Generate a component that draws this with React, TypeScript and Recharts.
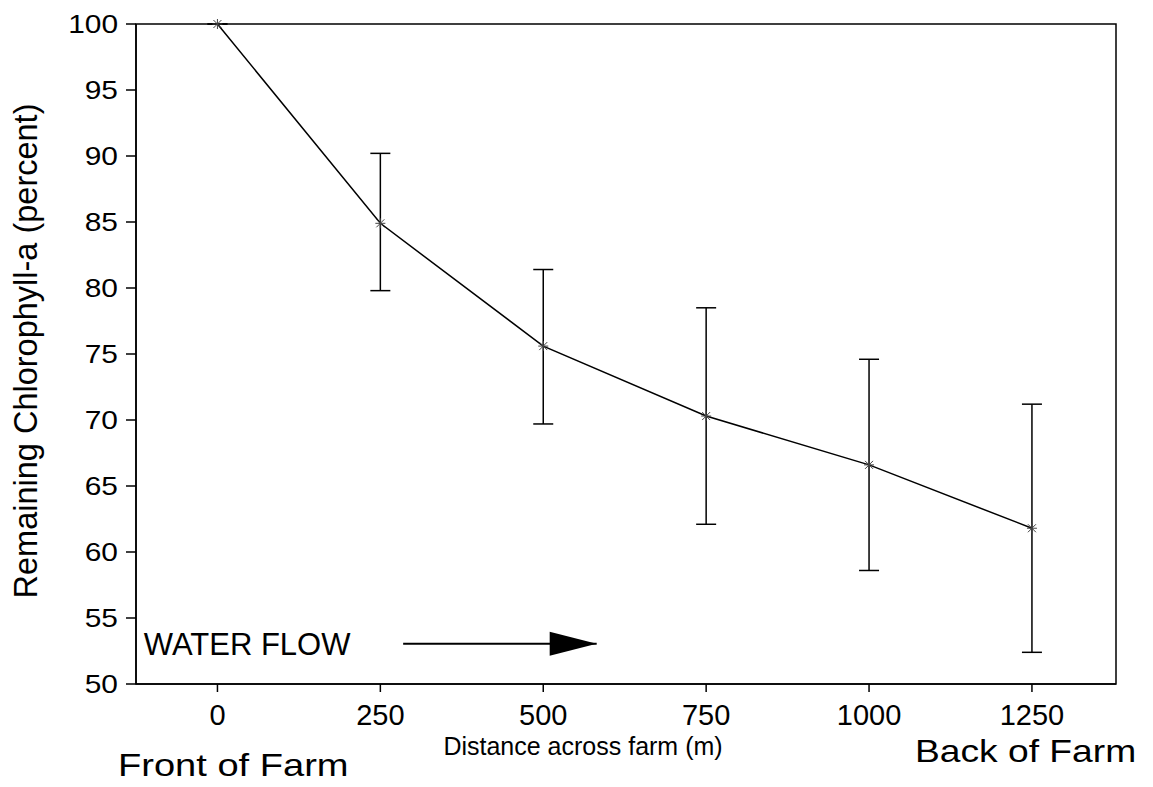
import React from "react";
import { LineChart, Line, XAxis, YAxis, ErrorBar, ReferenceLine, ReferenceDot, ReferenceArea } from "recharts";

const FONT = "'Liberation Sans', Arial, Helvetica, sans-serif";

// distance across the farm (m) and remaining chlorophyll-a (%)
const distances = [0, 250, 500, 750, 1000, 1250];
const chlorophyll = [100, 84.9, 75.6, 70.3, 66.6, 61.8];
const errorBelow = [0, 5.1, 5.9, 8.2, 8.0, 9.4];
const errorAbove = [0, 5.3, 5.8, 8.2, 8.0, 9.4];

const xTicks = [0, 250, 500, 750, 1000, 1250];
const yTicks = [50, 55, 60, 65, 70, 75, 80, 85, 90, 95, 100];
const xDomain = [-125, 1379];
const yDomain = [50, 100];

// water flow annotation, in data units
const flowLabelX = -113;
const flowStart = 285;
const flowTip = 582;
const flowLevel = 53.05;

const data = distances.map((d, i) => ({
  distance: d,
  value: chlorophyll[i],
  err: [errorBelow[i], errorAbove[i]],
}));

const Star = ({ cx, cy }: any) => (
  <g stroke="#444" strokeWidth={1}>
    <line x1={cx - 5} y1={cy} x2={cx + 5} y2={cy} />
    <line x1={cx} y1={cy - 5} x2={cx} y2={cy + 5} />
    <line x1={cx - 4} y1={cy - 4} x2={cx + 4} y2={cy + 4} />
    <line x1={cx - 4} y1={cy + 4} x2={cx + 4} y2={cy - 4} />
  </g>
);

const YTick = ({ x, y, payload }: any) => (
  <g transform={`translate(${x},${y}) scale(1.15,1)`}>
    <text x={0} y={0} dy="0.36em" textAnchor="end" fontSize={26} fontFamily={FONT} fill="#000">
      {payload.value}
    </text>
  </g>
);

const ArrowHead = ({ cx, cy }: any) => (
  <polygon points={`${cx - 47},${cy - 12} ${cx},${cy} ${cx - 47},${cy + 12}`} fill="#000" />
);

const FlowLabel = ({ cx, cy }: any) => (
  <text x={cx} y={cy} dy="0.36em" fontSize={31} fontFamily={FONT} fill="#000">
    WATER FLOW
  </text>
);

export default function App() {
  return (
    <div style={{ position: "absolute", left: 0, top: 0, width: 1153, height: 787, background: "#fff" }}>
      <LineChart width={1153} height={787} data={data} margin={{ top: 24, right: 37, bottom: 43, left: 56 }}>
        <XAxis
          type="number"
          dataKey="distance"
          domain={xDomain}
          ticks={xTicks}
          interval={0}
          height={60}
          tickSize={8}
          tickMargin={12}
          axisLine={{ stroke: "#000", strokeWidth: 1.5 }}
          tickLine={{ stroke: "#000", strokeWidth: 1.5 }}
          tick={{ fill: "#000", fontSize: 29, fontFamily: FONT }}
          label={{
            content: () => (
              <text x={583} y={755} textAnchor="middle" fontSize={25} fontFamily={FONT} fill="#000">
                Distance across farm (m)
              </text>
            ),
          }}
        />
        <YAxis
          type="number"
          domain={yDomain}
          ticks={yTicks}
          interval={0}
          width={80}
          tickSize={10}
          tickMargin={8}
          axisLine={{ stroke: "#000", strokeWidth: 1.5 }}
          tickLine={{ stroke: "#000", strokeWidth: 1.5 }}
          tick={<YTick />}
          label={{
            content: () => (
              <text
                x={0}
                y={0}
                transform="translate(37,351) rotate(-90)"
                textAnchor="middle"
                fontSize={32.5}
                fontFamily={FONT}
                fill="#000"
              >
                Remaining Chlorophyll-a (percent)
              </text>
            ),
          }}
        />
        {/* plot frame */}
        <ReferenceArea
          x1={xDomain[0]}
          x2={xDomain[1]}
          y1={yDomain[0]}
          y2={yDomain[1]}
          fill="none"
          fillOpacity={0}
          stroke="#000"
          strokeWidth={1.5}
        />
        <ReferenceLine
          segment={[
            { x: flowStart, y: flowLevel },
            { x: flowTip, y: flowLevel },
          ]}
          stroke="#000"
          strokeWidth={2}
        />
        <ReferenceDot x={flowTip} y={flowLevel} r={0} shape={<ArrowHead />} />
        <ReferenceDot x={flowLabelX} y={flowLevel} r={0} shape={<FlowLabel />} />
        <Line
          type="linear"
          dataKey="value"
          stroke="#000"
          strokeWidth={1.5}
          isAnimationActive={false}
          dot={(p: any) => <Star key={p.index} cx={p.cx} cy={p.cy} />}
        >
          <ErrorBar dataKey="err" direction="y" width={10} stroke="#000" strokeWidth={1.5} isAnimationActive={false} />
        </Line>
      </LineChart>
      <svg
        width={1153}
        height={787}
        style={{ position: "absolute", left: 0, top: 0, pointerEvents: "none" }}
      >
        <g transform="translate(118,776) scale(1.19,1)">
          <text x={0} y={0} fontSize={32} fontFamily={FONT} fill="#000">
            Front of Farm
          </text>
        </g>
        <g transform="translate(915,762) scale(1.2,1)">
          <text x={0} y={0} fontSize={31} fontFamily={FONT} fill="#000">
            Back of Farm
          </text>
        </g>
      </svg>
    </div>
  );
}
